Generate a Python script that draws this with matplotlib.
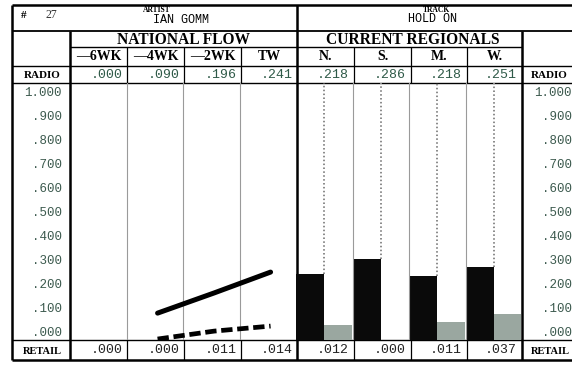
import matplotlib
matplotlib.use("Agg")
import matplotlib.pyplot as plt
from matplotlib.transforms import blended_transform_factory

# ---------------- data ----------------
chart_number = "27"
artist = "IAN GOMM"
track = "HOLD ON"
national_cols = ["\u20146WK", "\u20144WK", "\u20142WK", "TW"]
regional_cols = ["N.", "S.", "M.", "W."]
radio_national = [".000", ".090", ".196", ".241"]
radio_regional = [".218", ".286", ".218", ".251"]
retail_national = [".000", ".000", ".011", ".014"]
retail_regional = [".012", ".000", ".011", ".037"]
tick_values = [1.0, 0.9, 0.8, 0.7, 0.6, 0.5, 0.4, 0.3, 0.2, 0.1, 0.0]
tick_labels = ["1.000", ".900", ".800", ".700", ".600", ".500", ".400", ".300", ".200", ".100", ".000"]
# plotted heights (axis units)
radio_line_weeks = [1, 2, 3]
radio_line = [0.083, 0.167, 0.254]
retail_line = [-0.025, 0.008, 0.029]
regional_radio_bars = [0.246, 0.308, 0.238, 0.275]
regional_retail_bars = [0.033, -0.029, 0.046, 0.079]

W, H = 572, 367
fig = plt.figure(figsize=(W / 100, H / 100), dpi=100)
fig.patch.set_facecolor("white")
tab = fig.add_axes([0, 0, 1, 1])
tab.set_xlim(0, W)
tab.set_ylim(H, 0)
tab.axis("off")

serif = ["Liberation Serif", "DejaVu Serif"]
mono = ["Liberation Mono", "DejaVu Sans Mono"]
green = "#2f5a48"

# geometry (pixels)
xL, xA, xN, xR, xE = 12, 70, 297, 522, 575
nat_edges = [70, 127, 184, 241, 297]
reg_edges = [297, 354, 411, 467, 522]
yT, y1, y2, y3, y4, y5, yB = 5, 31, 47, 66, 83, 340, 360

def hl(y, x0, x1, lw=1.0, c="black"):
    tab.plot([x0, x1], [y, y], color=c, lw=lw, solid_capstyle="butt")

def vl(x, y0, y1_, lw=1.0, c="black", ls="-"):
    tab.plot([x, x], [y0, y1_], color=c, lw=lw, ls=ls, solid_capstyle="butt")

# plot area axes
ax = fig.add_axes([xA / W, 1 - y5 / H, (xR - xA) / W, (y5 - y4) / H])
y_bottom = -0.029
ax.set_xlim(0, 8)
ax.set_ylim(y_bottom, 1.042)
ax.axis("off")

# thin column separators in plot area
for i in [1, 2, 3, 5, 6, 7]:
    ax.axvline(i, color="#9a9a9a", lw=0.8)

# regional bars
for i, (rb, tb) in enumerate(zip(regional_radio_bars, regional_retail_bars)):
    x0 = 4 + i
    ax.bar(x0, rb - y_bottom, width=0.5, bottom=y_bottom, align="edge", color="#0a0a0a", lw=0)
    ax.bar(x0 + 0.5, tb - y_bottom, width=0.49, bottom=y_bottom, align="edge", color="#9aa7a0", lw=0)
    ax.plot([x0 + 0.5, x0 + 0.5], [rb, 1.042], color="#8a8a8a", lw=1.4, ls=(0, (0.8, 1.2)))

# national flow lines
xs = [w + 0.55 for w in radio_line_weeks]
ax.plot(xs, radio_line, color="black", lw=3.6, solid_capstyle="round")
ax.plot(xs, retail_line, color="black", lw=3.4, ls=(0, (2.4, 1.0)), dash_capstyle="butt")

# ---- table lines ----
thick = 1.8
hl(yT, xL, xE, thick)
hl(yB, xL, xE, thick)
vl(xL, yT, yB, thick)
vl(xA, y1, yB, thick)
vl(xN, yT, yB, thick)
vl(xR, y1, yB, thick)
hl(y1, xL, xE, 1.3)
hl(y2, xA, xR, 1.0)
hl(y3, xL, xE, 1.0)
hl(y4, xL, xE, 1.0)
hl(y5, xL, xE, 1.0)
for x in nat_edges[1:-1] + reg_edges[1:-1]:
    vl(x, y2, y4, 0.9)
    vl(x, y5, yB, 0.9)

# ---- texts ----
tab.text(21, 15, "#", fontsize=8, family=serif, ha="left", va="center", fontweight="bold")
tab.text(45, 15, chart_number, fontsize=8.5, family=serif, ha="left", va="center", color="#333333")
tab.text(157, 10, "ARTIST", fontsize=5.5, family=serif, ha="center", va="center", fontweight="bold")
tab.text(181, 20, artist, fontsize=8.5, family=mono, ha="center", va="center")
tab.text(437, 10, "TRACK", fontsize=5.5, family=serif, ha="center", va="center", fontweight="bold")
tab.text(432, 19, track, fontsize=8.5, family=mono, ha="center", va="center")

tab.text((nat_edges[0] + nat_edges[-1]) / 2, 39.5, "NATIONAL FLOW", fontsize=11.2, family=serif,
         fontweight="bold", ha="center", va="center")
tab.text((reg_edges[0] + reg_edges[-1]) / 2 + 3, 39.5, "CURRENT REGIONALS", fontsize=11.2, family=serif,
         fontweight="bold", ha="center", va="center")

for i, lab in enumerate(national_cols):
    tab.text((nat_edges[i] + nat_edges[i + 1]) / 2, 57, lab, fontsize=10, family=serif,
             fontweight="bold", ha="center", va="center")
for i, lab in enumerate(regional_cols):
    tab.text((reg_edges[i] + reg_edges[i + 1]) / 2, 57, lab, fontsize=10, family=serif,
             fontweight="bold", ha="center", va="center")

for x, lab in [((xL + xA) / 2 + 1, "RADIO"), (xR + 9, "RADIO")]:
    tab.text(x, 75, lab, fontsize=8, family=serif, fontweight="bold",
             ha="center" if x < xA else "left", va="center")
for x, lab in [((xL + xA) / 2 + 1, "RETAIL"), (xR + 9, "RETAIL")]:
    tab.text(x, 351, lab, fontsize=7.5, family=serif, fontweight="bold",
             ha="center" if x < xA else "left", va="center")

for i, v in enumerate(radio_national):
    tab.text(nat_edges[i + 1] - 4, 75, v, fontsize=9.5, family=mono, color=green, ha="right", va="center")
for i, v in enumerate(radio_regional):
    tab.text(reg_edges[i + 1] - 5, 75, v, fontsize=9.5, family=mono, color=green, ha="right", va="center")
for i, v in enumerate(retail_national):
    tab.text(nat_edges[i + 1] - 4, 350, v, fontsize=9.5, family=mono, color="#222222", ha="right", va="center")
for i, v in enumerate(retail_regional):
    tab.text(reg_edges[i + 1] - 5, 350, v, fontsize=9.5, family=mono, color="#222222", ha="right", va="center")

# y tick labels on both sides
trL = blended_transform_factory(tab.transData, ax.transData)
for v, lab in zip(tick_values, tick_labels):
    tab.text(62, v, lab, transform=trL, fontsize=9, family=mono, color="#3c5a4e", ha="right", va="center")
    tab.text(572, v, lab, transform=trL, fontsize=9, family=mono, color="#3c5a4e", ha="right", va="center")

fig.savefig("out.png", dpi=100, facecolor="white")
